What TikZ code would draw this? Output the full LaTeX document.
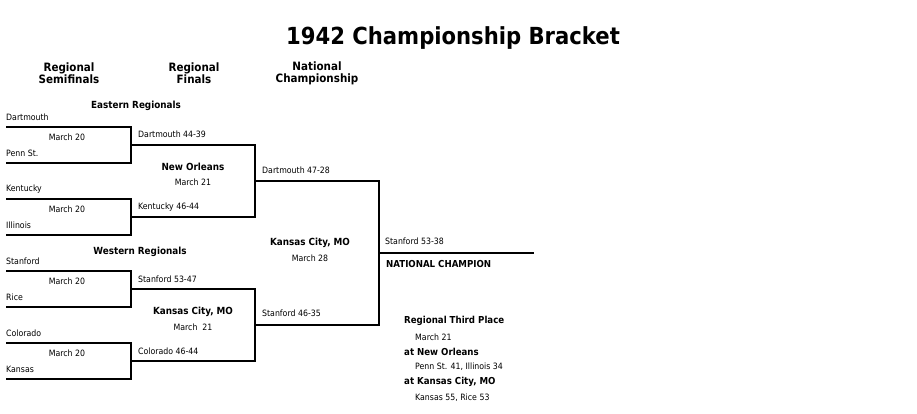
\documentclass[tikz,border=0pt]{standalone}
\usepackage{fontspec}
\setmainfont{DejaVu Sans Condensed}
\begin{document}
\begin{tikzpicture}[x=1pt,y=-1pt,
  lbl/.style={anchor=west,inner sep=0pt,font=\fontsize{8.7}{10}\selectfont},
  ctr/.style={anchor=center,inner sep=0pt,font=\fontsize{8.7}{10}\selectfont},
  bctr/.style={anchor=center,inner sep=0pt,align=center,font=\bfseries\fontsize{9.8}{11}\selectfont},
  hdr/.style={anchor=center,inner sep=0pt,align=center,font=\bfseries\fontsize{11.5}{12}\selectfont},
  blbl/.style={anchor=west,inner sep=0pt,font=\bfseries\fontsize{9.6}{10}\selectfont},
  br/.style={line width=1.3pt}]
\useasboundingbox (0,0) rectangle (917,414);
\node[inner sep=0pt,font=\bfseries\fontsize{23.5}{26}\selectfont] (title) at (453,38) {1942 Championship Bracket};
\node[hdr] (h1) at (69,73) {Regional\\[0pt]Semifinals};
\node[hdr] (h2) at (194,73) {Regional\\[0pt]Finals};
\node[hdr] (h3) at (317,73) {National\\[0pt]Championship};
\node[bctr] (east) at (136,106) {Eastern Regionals};
\node[bctr] (west) at (140,252) {Western Regionals};
% round 1
\foreach \t/\b/\na/\nb [count=\i] in {127/163/Dartmouth/Penn St., 199/235/Kentucky/Illinois, 271/307/Stanford/Rice, 343/379/Colorado/Kansas}{
  \coordinate (a\i) at (6,\t); \coordinate (b\i) at (6,\b);
  \draw[br] (a\i) -- (131,\t) -- (131,\b) -- (b\i);
  \node[lbl] (ta\i) at (6,\t-10) {\na};
  \node[lbl] (tb\i) at (6,\b-10) {\nb};
  \node[ctr] (m\i) at (67,\t+10) {March 20};
}
% round 2
\draw[br] (131,145) -- (255,145) -- (255,217) -- (131,217);
\draw[br] (131,289) -- (255,289) -- (255,361) -- (131,361);
\node[lbl] (r21) at (138,134) {Dartmouth 44-39};
\node[lbl] (r22) at (138,207) {Kentucky 46-44};
\node[lbl] (r23) at (138,279) {Stanford 53-47};
\node[lbl] (r24) at (138,351) {Colorado 46-44};
\node[bctr] (no) at (193,167) {New Orleans};
\node[ctr] (no2) at (193,182) {March 21};
\node[bctr] (kc) at (193,312) {Kansas City, MO};
\node[ctr] (kc2) at (193,327) {March\ \ 21};
% round 3
\draw[br] (255,181) -- (379,181) -- (379,325) -- (255,325);
\node[lbl] (r31) at (262,170) {Dartmouth 47-28};
\node[lbl] (r32) at (262,313) {Stanford 46-35};
\node[bctr] (kcn) at (310,243) {Kansas City, MO};
\node[ctr] (kcn2) at (310,258) {March 28};
% final
\draw[br] (379,253) -- (534,253);
\node[lbl] (champ) at (385,241) {Stanford 53-38};
\node[blbl] (nc) at (386,264) {NATIONAL CHAMPION};
% third place
\node[blbl] (tp) at (404,321) {Regional Third Place};
\node[lbl] (tp1) at (415,337) {March 21};
\node[blbl] (tp2) at (404,352) {at New Orleans};
\node[lbl] (tp3) at (415,367) {Penn St. 41, Illinois 34};
\node[blbl] (tp4) at (404,382) {at Kansas City, MO};
\node[lbl] (tp5) at (415,398) {Kansas 55, Rice 53};
\end{tikzpicture}
\end{document}
